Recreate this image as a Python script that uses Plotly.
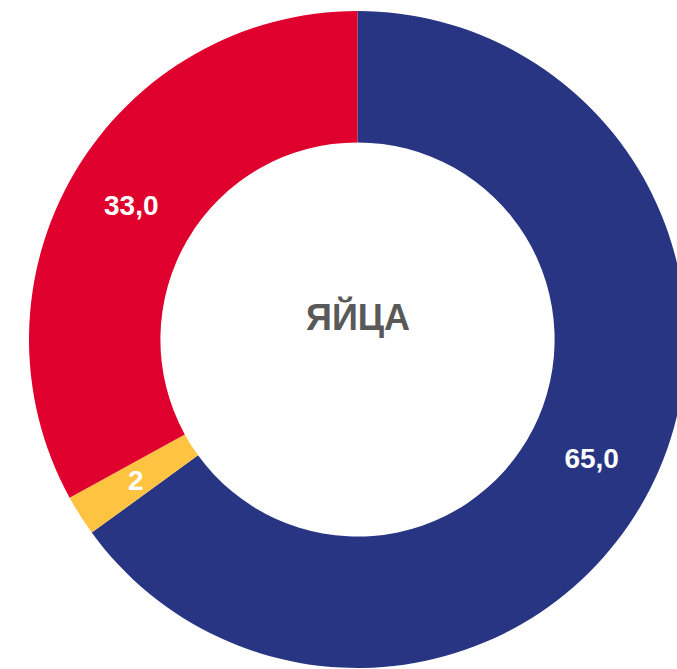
import math
import plotly.graph_objects as go

categories = ["A", "B", "C"]
values = [65.0, 2.0, 33.0]
text_labels = ["65,0", "2", "33,0"]
colors = ["#283583", "#FFC342", "#E0002D"]
center_title = "ЯЙЦА"

W, H = 700, 680
cx, cy, r = 357.5, 339.5, 328.5
HOLE = 0.6
label_font = dict(family="Liberation Sans, Arial", size=28, color="white", weight="bold")

fig = go.Figure(go.Pie(
    labels=categories,
    values=values,
    text=text_labels,
    textinfo="text",
    textposition=["inside", "none", "inside"],
    insidetextorientation="horizontal",
    textfont=label_font,
    marker=dict(colors=colors, line=dict(width=0)),
    hole=HOLE,
    sort=False,
    direction="clockwise",
    rotation=0,
    hoverinfo="none",
    domain=dict(x=[(cx - r) / W, (cx + r) / W], y=[1 - (cy + r) / H, 1 - (cy - r) / H]),
))

# label for the thin slice, placed at the slice's mid-angle, mid-ring radius
total = sum(values)
start = sum(values[:1])
mid = (start + values[1] / 2) / total * 2 * math.pi
rr = r * (1 + HOLE) / 2
lx = cx + rr * math.sin(mid)
ly = cy - rr * math.cos(mid)
fig.add_annotation(
    text=text_labels[1], x=lx / W, y=1 - ly / H, xref="paper", yref="paper",
    showarrow=False, xanchor="center", yanchor="middle", font=label_font,
)

fig.add_annotation(
    text=center_title, x=cx / W, y=1 - 317 / H, xref="paper", yref="paper",
    showarrow=False, xanchor="center", yanchor="middle",
    font=dict(family="Liberation Sans, Arial", size=36, color="#595959", weight="bold"),
)

fig.update_layout(
    width=W, height=H,
    margin=dict(l=0, r=0, t=0, b=0),
    paper_bgcolor="white", plot_bgcolor="white",
    showlegend=False,
)

fig.write_html("out.html", config={"displayModeBar": False},
               post_script="document.body.style.margin='0';document.body.style.overflow='hidden';document.documentElement.style.overflow='hidden';")
